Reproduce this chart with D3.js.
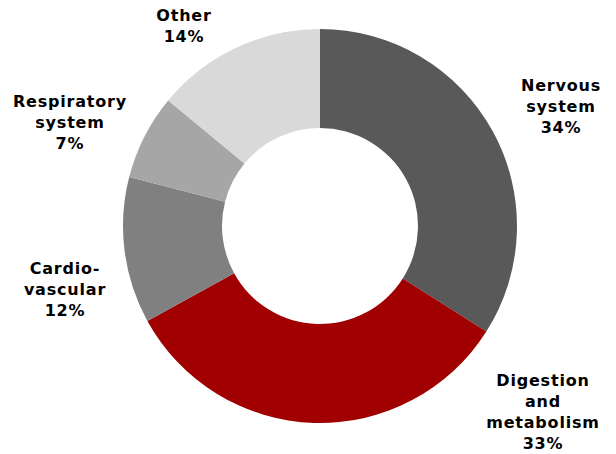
<!DOCTYPE html>
<html>
<head>
<meta charset="utf-8">
<script src="https://cdn.jsdelivr.net/npm/d3@7"></script>
<style>
  html, body { margin: 0; padding: 0; background: #fff; }
  svg { display: block; }
  text { font-family: "DejaVu Sans", Verdana, sans-serif; font-weight: bold; font-size: 16px; letter-spacing: 0.8px; fill: #000; }
</style>
</head>
<body>
<svg id="chart" width="616" height="454"></svg>
<script>
// Data
const categories = ["Nervous system", "Digestion and metabolism", "Cardiovascular", "Respiratory system", "Other"];
const values = [34, 33, 12, 7, 14];
const labelLines = [
  ["Nervous", "system"],
  ["Digestion", "and", "metabolism"],
  ["Cardio-", "vascular"],
  ["Respiratory", "system"],
  ["Other"]
];
const colors = ["#595959", "#A00000", "#808080", "#A6A6A6", "#D9D9D9"];

// Layout
const width = 616, height = 454;
const cx = 320, cy = 226, outerR = 197, innerR = 98;
const labelPos = [
  { x: 561, y: 85 },
  { x: 543, y: 380 },
  { x: 65, y: 268 },
  { x: 70, y: 101 },
  { x: 184, y: 15 }
];
const lineH = 21;

const svg = d3.select("#chart");
const g = svg.append("g").attr("transform", `translate(${cx},${cy})`);

const pie = d3.pie().sort(null).value(d => d);
const arc = d3.arc().innerRadius(innerR).outerRadius(outerR);
const arcs = pie(values);

g.selectAll("path").data(arcs).enter().append("path")
  .attr("d", arc)
  .attr("fill", (d, i) => colors[i]);

const lbl = svg.selectAll("text.lbl").data(arcs).enter().append("text")
  .attr("class", "lbl")
  .attr("text-anchor", "middle")
  .attr("x", (d, i) => labelPos[i].x)
  .attr("y", (d, i) => labelPos[i].y);

lbl.each(function(d, i) {
  const t = d3.select(this);
  const lines = labelLines[i].concat([d3.format(".0f")(values[i]) + "%"]);
  lines.forEach((ln, k) => {
    t.append("tspan")
      .attr("x", labelPos[i].x)
      .attr("dy", k === 0 ? "0.35em" : lineH)
      .text(ln);
  });
});
</script>
</body>
</html>
